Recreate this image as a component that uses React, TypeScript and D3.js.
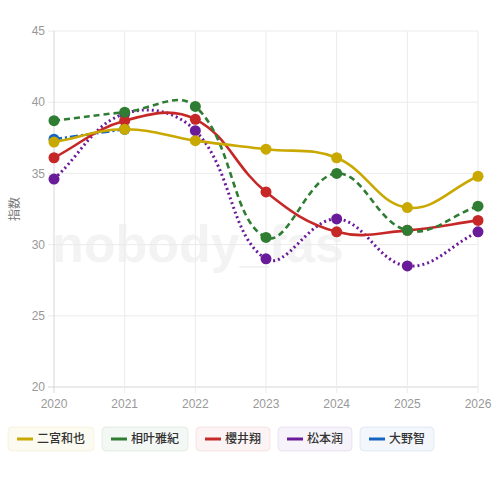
import * as d3 from 'd3';

const years = [2020, 2021, 2022, 2023, 2024, 2025, 2026];
const yTicks = [20, 25, 30, 35, 40, 45];

const ninomiya = [37.2, 38.1, 37.3, 36.7, 36.1, 32.6, 34.8];
const aiba = [38.7, 39.3, 39.7, 30.5, 35.0, 31.0, 32.7];
const sakurai = [36.1, 38.7, 38.8, 33.7, 30.9, 31.0, 31.7];
const matsumoto = [34.6, 39.2, 38.0, 29.0, 31.8, 28.5, 30.9];
const ohno = [37.4, 38.1, null, null, null, null, null];

const names = ['二宮和也', '相叶雅紀', '櫻井翔', '松本润', '大野智'];
const colors = ['#c9a800', '#2e7d32', '#c62828', '#6a1b9a', '#1565c0'];
const dashes = ['', '6,4', '', '2,3', '8,3,2,3'];
const seriesValues = [ninomiya, aiba, sakurai, matsumoto, ohno];

const W = 500;
const H = 484;
const margin = { top: 31, right: 22, bottom: 97, left: 54 };

type P = [number, number];

// chart.js style spline (tension 0.4)
function splinePath(pts: P[], t = 0.4) {
    if (pts.length === 0) return '';
    if (pts.length === 1) return `M${pts[0][0]},${pts[0][1]}`;
    const cps = pts.map((cur, i) => {
        const prev = pts[i - 1] || cur;
        const next = pts[i + 1] || cur;
        const d01 = Math.hypot(cur[0] - prev[0], cur[1] - prev[1]);
        const d12 = Math.hypot(next[0] - cur[0], next[1] - cur[1]);
        let s01 = d01 / (d01 + d12);
        let s12 = d12 / (d01 + d12);
        if (isNaN(s01)) s01 = 0;
        if (isNaN(s12)) s12 = 0;
        const fa = t * s01;
        const fb = t * s12;
        return {
            prev: [cur[0] - fa * (next[0] - prev[0]), cur[1] - fa * (next[1] - prev[1])],
            next: [cur[0] + fb * (next[0] - prev[0]), cur[1] + fb * (next[1] - prev[1])],
        };
    });
    let d = `M${pts[0][0]},${pts[0][1]}`;
    for (let i = 1; i < pts.length; i++) {
        const a = cps[i - 1].next;
        const b = cps[i].prev;
        d += `C${a[0]},${a[1]},${b[0]},${b[1]},${pts[i][0]},${pts[i][1]}`;
    }
    return d;
}

const App = () => {
    const x = d3.scaleLinear()
        .domain([2020, 2026])
        .range([margin.left, W - margin.right]);
    const y = d3.scaleLinear()
        .domain([20, 45])
        .range([H - margin.bottom, margin.top]);

    const font = '"Liberation Sans", Arial, sans-serif';
    const cjk = '"Noto Sans CJK JP", "Noto Sans", sans-serif';

    // legend layout
    const charW = 12;
    const legendItems: { x: number; w: number }[] = [];
    let lx = 8;
    names.forEach((n) => {
        const w = 9 + 16 + 4 + n.length * charW + 9;
        legendItems.push({ x: lx, w });
        lx += w + 8;
    });

    const order = seriesValues.map((_, i) => i).reverse();

    return (
        <svg width={W} height={H} style={{ position: 'absolute', left: 0, top: 0, background: '#fff' }}>
            {/* watermark */}
            <text x={52} y={262} fontFamily={font} fontWeight="bold" fontSize={52} fill="#000" opacity={0.045}>
                nobody_fas
            </text>

            {/* grid */}
            {yTicks.map((v) => (
                <line key={'gy' + v} x1={margin.left - 6} x2={W - margin.right} y1={y(v)} y2={y(v)}
                    stroke={v === 20 ? '#d6d6d6' : '#ebebeb'} strokeWidth={1} />
            ))}
            {years.map((v) => (
                <line key={'gx' + v} x1={x(v)} x2={x(v)} y1={margin.top} y2={H - margin.bottom + 6}
                    stroke={v === 2020 ? '#d6d6d6' : '#ebebeb'} strokeWidth={1} />
            ))}

            {/* y ticks */}
            {yTicks.map((v) => (
                <text key={'ty' + v} x={margin.left - 9} y={y(v)} dy="0.35em" textAnchor="end"
                    fontFamily={font} fontSize={12} fill="#999">{v}</text>
            ))}
            {years.map((v) => (
                <text key={'tx' + v} x={x(v)} y={408} textAnchor="middle"
                    fontFamily={font} fontSize={12} fill="#999">{v}</text>
            ))}
            <text transform={`translate(19,${(margin.top + H - margin.bottom) / 2}) rotate(-90)`}
                textAnchor="middle" fontFamily={cjk} fontSize={12} fill="#777">指数</text>

            {/* series */}
            {order.map((i) => {
                const pts: P[] = [];
                seriesValues[i].forEach((v, j) => {
                    if (v !== null) pts.push([x(years[j]), y(v as number)]);
                });
                return (
                    <g key={'s' + i}>
                        <path d={splinePath(pts)} fill="none" stroke={colors[i]}
                            strokeWidth={i === 3 ? 3 : 2.6} strokeDasharray={dashes[i] || undefined} />
                        {pts.map((p, j) => (
                            <circle key={j} cx={p[0]} cy={p[1]} r={5.5} fill={colors[i]} />
                        ))}
                    </g>
                );
            })}

            {/* legend */}
            {names.map((n, i) => {
                const it = legendItems[i];
                return (
                    <g key={'l' + i} transform={`translate(${it.x},427)`}>
                        <rect width={it.w} height={24} rx={4} fill={colors[i]} fillOpacity={0.05}
                            stroke={colors[i]} strokeOpacity={0.1} />
                        <line x1={9} x2={25} y1={12} y2={12} stroke={colors[i]} strokeWidth={3} />
                        <text x={29} y={12} dy="0.36em" fontFamily={cjk} fontSize={12} fontWeight={500} fill="#333">{n}</text>
                    </g>
                );
            })}
        </svg>
    );
};

export default App;
